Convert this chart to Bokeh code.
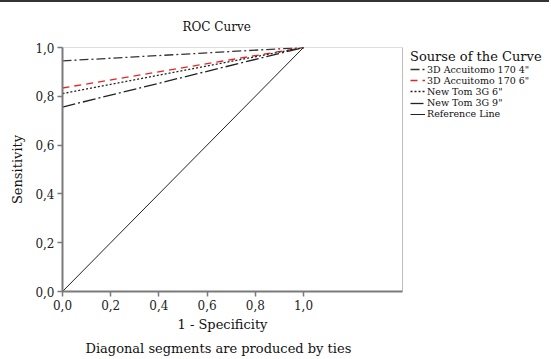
from bokeh.plotting import figure
from bokeh.models import Range1d, FixedTicker, Legend, LegendItem, Title, BoxAnnotation
from bokeh.embed import file_html
from bokeh.resources import INLINE

# ---- data ----
fpr = [0.0, 1.0]
tpr_acc4 = [0.945, 1.0]
tpr_acc6 = [0.834, 1.0]
tpr_nt6 = [0.811, 1.0]
tpr_nt9 = [0.756, 1.0]
ref_x = [0.0, 1.0]
ref_y = [0.0, 1.0]
tick_values = [0.0, 0.2, 0.4, 0.6, 0.8, 1.0]
tick_labels = ["0,0", "0,2", "0,4", "0,6", "0,8", "1,0"]
series_names = ['3D Accuitomo 170 4"', '3D Accuitomo 170 6"', 'New Tom 3G 6"',
                'New Tom 3G 9"', 'Reference Line']

FONT = "DejaVu Serif"
X_BOX = 1.411          # right edge of the plotting box (data units)
PX_PER_X = 241.0       # horizontal scale

frame_w = 487
p = figure(
    title=None, output_backend="svg", toolbar_location=None,
    frame_width=frame_w, frame_height=244,
    min_border_left=62, min_border_right=0, min_border_top=45, min_border_bottom=66,
    x_range=Range1d(0, frame_w / PX_PER_X), y_range=Range1d(0, 1.0),
    styles={"border-top": "2px solid #333"},
)
p.grid.visible = False
p.outline_line_color = None
p.background_fill_color = "white"
p.border_fill_color = "white"

# box around the plotting area (under the axes)
p.add_layout(BoxAnnotation(left=0, right=X_BOX, bottom=0, top=1.0, fill_alpha=0,
                           line_color="#222222", line_width=1, level="underlay"))

for ax in (p.xaxis[0], p.yaxis[0]):
    ax.ticker = FixedTicker(ticks=tick_values)
    ax.major_label_overrides = dict(zip(tick_values, tick_labels))
    ax.axis_line_color = "#7a7a7a"
    ax.axis_line_width = 2
    ax.major_tick_line_color = "#7a7a7a"
    ax.major_tick_line_width = 1.5
    ax.major_tick_out = 5
    ax.major_tick_in = 0
    ax.minor_tick_line_color = None
    ax.major_label_text_font = FONT
    ax.major_label_text_font_size = "12px"
    ax.major_label_text_color = "#222222"
    ax.major_label_standoff = 3
p.xaxis[0].bounds = (0, X_BOX)

p.yaxis[0].axis_label = "Sensitivity"
p.yaxis[0].axis_label_text_font = FONT
p.yaxis[0].axis_label_text_font_size = "13px"
p.yaxis[0].axis_label_text_font_style = "normal"
p.yaxis[0].axis_label_text_color = "#111111"
p.yaxis[0].axis_label_standoff = 7

r1 = p.line(fpr, tpr_acc4, line_color="#333333", line_width=1.3, line_dash="9 3 2 3")
r2 = p.line(fpr, tpr_acc6, line_color="#e8241f", line_width=1.3, line_dash="7 5")
r3 = p.line(fpr, tpr_nt6, line_color="#222222", line_width=1.3, line_dash="2 2")
r4 = p.line(fpr, tpr_nt9, line_color="#222222", line_width=1.3, line_dash="13 3 2 3")
r5 = p.line(ref_x, ref_y, line_color="#222222", line_width=1)
renderers = [r1, r2, r3, r4, r5]

# legend: one Legend per entry so rows can sit closer than Bokeh's default spacing
legend_x = 348
first_row_y = 216.5
row_step = 11.2
for i, (name, r) in enumerate(zip(series_names, renderers)):
    kw = {}
    if i == 0:
        kw = dict(title="Sourse of the Curve", title_text_font=FONT,
                  title_text_font_size="13px", title_text_font_style="normal",
                  title_text_color="#111111", title_standoff=0)
    p.add_layout(Legend(
        items=[LegendItem(label=name, renderers=[r])],
        location=(legend_x, first_row_y - row_step * i),
        label_text_font=FONT, label_text_font_size="9.5px", label_text_color="#111111",
        label_height=8, glyph_height=8, glyph_width=15, label_standoff=2,
        spacing=0, padding=0, margin=0,
        border_line_color=None, background_fill_alpha=0, **kw,
    ))

p.add_layout(Title(text="ROC Curve", align="left", offset=120, standoff=28,
                   text_font=FONT, text_font_size="12px", text_font_style="normal",
                   text_color="#111111"), "above")
p.add_layout(Title(text="1 - Specificity", align="left", offset=115, standoff=4,
                   text_font=FONT, text_font_size="13px", text_font_style="normal",
                   text_color="#111111"), "below")
p.add_layout(Title(text="Diagonal segments are produced by ties", align="left", offset=23,
                   standoff=10, text_font=FONT, text_font_size="13px", text_font_style="normal",
                   text_color="#111111"), "below")

open("out.html", "w").write(file_html(p, INLINE))
